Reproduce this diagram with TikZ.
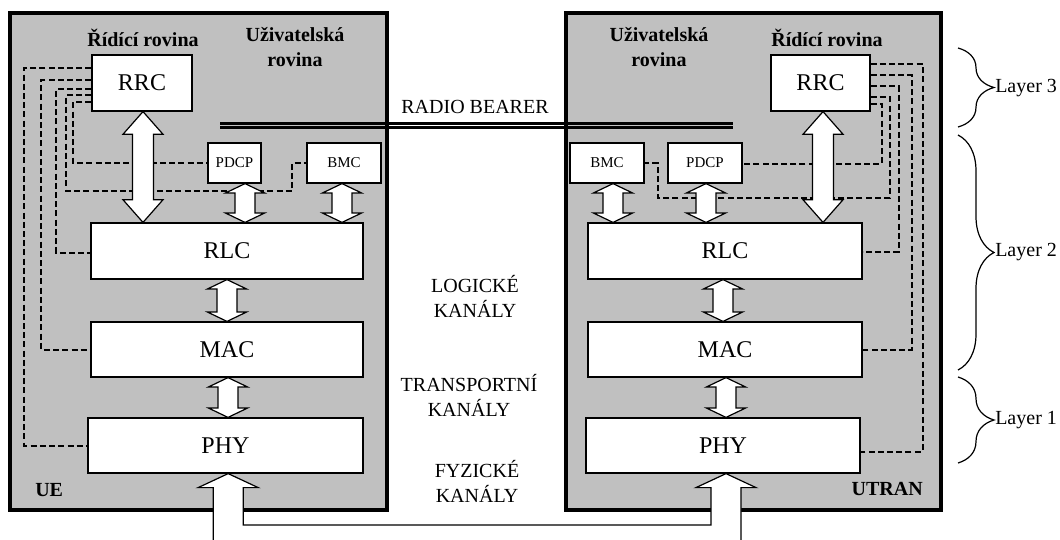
\documentclass[tikz,border=0pt]{standalone}
\usepackage{fontspec}
\setmainfont{Liberation Serif}
\usetikzlibrary{calc,decorations.pathreplacing}
\definecolor{panel}{RGB}{192,192,192}
\tikzset{
 panelbox/.style={draw, line width=2.3pt, fill=panel, inner sep=0pt},
 layerbox/.style={draw, line width=0.9pt, fill=white, inner sep=0pt, font=\fontsize{18}{20}\selectfont},
 smallbox/.style={layerbox, font=\fontsize{11.25}{13}\selectfont},
 ctrl/.style={line width=1.5pt, dash pattern=on 4.5pt off 2.4pt},
 arrbox/.style={draw, fill=white, line width=0.9pt, line join=miter},
 lbl/.style={font=\fontsize{15}{18.75}\selectfont, align=center, inner sep=0pt},
 plane/.style={font=\fontsize{15}{18.75}\selectfont\bfseries, align=center, inner sep=0pt},
 layerbrace/.style={decorate, decoration={brace, amplitude=27pt}, line width=0.9pt},
 bearer/.style={line width=1.8pt},
}
\newcommand\twoway[5]{%
 \filldraw[arrbox] (#1) -- ([shift={(#4,-#5)}]#1) -- ([shift={(#3,-#5)}]#1) -- ([shift={(#3,#5)}]#2) -- ([shift={(#4,#5)}]#2) -- (#2) -- ([shift={(-#4,#5)}]#2) -- ([shift={(-#3,#5)}]#2) -- ([shift={(-#3,-#5)}]#1) -- ([shift={(-#4,-#5)}]#1) -- cycle;}
\begin{document}
\begin{tikzpicture}[x=0.75pt, y=-0.75pt]
\useasboundingbox (0,0) rectangle (1060,539);
% panels
\node[panelbox, minimum width=282.75pt, minimum height=372.75pt] (UE) at (198.5,261.5) {};
\node[panelbox, minimum width=281.25pt, minimum height=372.75pt] (UTRAN) at (753.5,261.5) {};
% plane labels
\node[plane] (ctlA) at (143,38) {Řídící rovina};
\node[plane] (usrA) at (295,47) {Uživatelská\\rovina};
\node[plane] (ctlB) at (827,38) {Řídící rovina};
\node[plane] (usrB) at (659,47) {Uživatelská\\rovina};
\node[plane, anchor=west] (ueL) at (35,490) {UE};
\node[plane, anchor=east] (utL) at (923,489) {UTRAN};
% radio bearer
\coordinate (rbA) at (220,123.3);
\coordinate (rbB) at (733,123.3);
\draw[bearer] (rbA) -- (rbB);
\draw[bearer] ([yshift=-3pt]rbA) -- ([yshift=-3pt]rbB);
\node[lbl] (rbT) at (475,107) {RADIO BEARER};
% channel labels
\node[lbl] (logT) at (475,296) {LOGICKÉ\\KANÁLY};
\node[lbl] (trT) at (469,395) {TRANSPORTNÍ\\KANÁLY};
\node[lbl] (fyT) at (477,481) {FYZICKÉ\\KANÁLY};
% box positions
\path (142,83) coordinate (pRRCa) (234.5,163) coordinate (pPDCPa) (344,163) coordinate (pBMCa)
      (227,251) coordinate (pRLCa) (227,349.5) coordinate (pMACa) (225.5,445.5) coordinate (pPHYa);
\path (820.5,83) coordinate (pRRCb) (705,163) coordinate (pPDCPb) (607,163) coordinate (pBMCb)
      (725,251) coordinate (pRLCb) (725,349.5) coordinate (pMACb) (723,445.5) coordinate (pPHYb);
% invisible anchors first for dashed routes
\node[layerbox, draw=none, fill=none, minimum width=75pt, minimum height=42pt] (RRCa) at (pRRCa) {};
\node[smallbox, draw=none, fill=none, minimum width=39.75pt, minimum height=30pt] (PDCPa) at (pPDCPa) {};
\node[smallbox, draw=none, fill=none, minimum width=55.5pt, minimum height=30pt] (BMCa) at (pBMCa) {};
\node[layerbox, draw=none, fill=none, minimum width=204pt, minimum height=42pt] (RLCa) at (pRLCa) {};
\node[layerbox, draw=none, fill=none, minimum width=204pt, minimum height=41.25pt] (MACa) at (pMACa) {};
\node[layerbox, draw=none, fill=none, minimum width=206.25pt, minimum height=41.25pt] (PHYa) at (pPHYa) {};
\node[layerbox, draw=none, fill=none, minimum width=74.25pt, minimum height=42pt] (RRCb) at (pRRCb) {};
\node[smallbox, draw=none, fill=none, minimum width=55.5pt, minimum height=30pt] (PDCPb) at (pPDCPb) {};
\node[smallbox, draw=none, fill=none, minimum width=55.5pt, minimum height=30pt] (BMCb) at (pBMCb) {};
\node[layerbox, draw=none, fill=none, minimum width=205.5pt, minimum height=42pt] (RLCb) at (pRLCb) {};
\node[layerbox, draw=none, fill=none, minimum width=205.5pt, minimum height=41.25pt] (MACb) at (pMACb) {};
\node[layerbox, draw=none, fill=none, minimum width=205.5pt, minimum height=41.25pt] (PHYb) at (pPHYb) {};
% dashed control lines UE
\draw[ctrl] ([yshift=11.25pt]RRCa.west) -| ($(PHYa.west)+(-63,0)$) -- (PHYa.west);
\draw[ctrl] ([yshift=2.25pt]RRCa.west) -| ($(MACa.west)+(-49,0)$) -- (MACa.west);
\draw[ctrl] ([yshift=-4.5pt]RRCa.west) -| ($(RLCa.west)+(-34,2)$) -- ([yshift=-1.5pt]RLCa.west);
\draw[ctrl] ([yshift=-9pt]RRCa.west) -| ($(RRCa.west)+(-25,108)$) -| ($(BMCa.west)+(-14,0)$) -- (BMCa.west);
\draw[ctrl] ([yshift=-14.25pt]RRCa.west) -| ($(PDCPa.west)+(-134,0)$) -- (PDCPa.west);
% dashed control lines UTRAN
\draw[ctrl] ([yshift=14.25pt]RRCb.east) -| ($(PHYb.east)+(62,6)$) -- ([yshift=-4.5pt]PHYb.east);
\draw[ctrl] ([yshift=6pt]RRCb.east) -| ($(MACb.east)+(49,0)$) -- (MACb.east);
\draw[ctrl] ([yshift=-2.25pt]RRCb.east) -| ($(RLCb.east)+(36,1)$) -- ([yshift=-0.75pt]RLCb.east);
\draw[ctrl] ([yshift=-10.5pt]RRCb.east) -| ($(RRCb.east)+(19,115)$) -| ($(BMCb.east)+(13,0)$) -- (BMCb.east);
\draw[ctrl] ([yshift=-15.75pt]RRCb.east) -| ($(PDCPb.east)+(139,1)$) -- ([yshift=-0.75pt]PDCPb.east);
% visible boxes
\node[layerbox, minimum width=75pt, minimum height=42pt] (RRCa) at (pRRCa) {RRC};
\node[smallbox, minimum width=39.75pt, minimum height=30pt] (PDCPa) at (pPDCPa) {PDCP};
\node[smallbox, minimum width=55.5pt, minimum height=30pt] (BMCa) at (pBMCa) {BMC};
\node[layerbox, minimum width=204pt, minimum height=42pt] (RLCa) at (pRLCa) {RLC};
\node[layerbox, minimum width=204pt, minimum height=41.25pt] (MACa) at (pMACa) {MAC};
\node[layerbox, minimum width=206.25pt, minimum height=41.25pt] (PHYa) at (pPHYa) {PHY};
\node[layerbox, minimum width=74.25pt, minimum height=42pt] (RRCb) at (pRRCb) {RRC};
\node[smallbox, minimum width=55.5pt, minimum height=30pt] (PDCPb) at (pPDCPb) {PDCP};
\node[smallbox, minimum width=55.5pt, minimum height=30pt] (BMCb) at (pBMCb) {BMC};
\node[layerbox, minimum width=205.5pt, minimum height=42pt] (RLCb) at (pRLCb) {RLC};
\node[layerbox, minimum width=205.5pt, minimum height=41.25pt] (MACb) at (pMACb) {MAC};
\node[layerbox, minimum width=205.5pt, minimum height=41.25pt] (PHYb) at (pPHYb) {PHY};
% double arrows UE
\coordinate (t1) at ([xshift=0.75pt]RRCa.south); \coordinate (b1) at (t1 |- RLCa.north);
\twoway{t1}{b1}{7.9pt}{15pt}{17pt}
\coordinate (t2) at ([xshift=7.9pt]PDCPa.south); \coordinate (b2) at (t2 |- RLCa.north);
\twoway{t2}{b2}{7.5pt}{14.6pt}{7pt}
\coordinate (t3) at ([xshift=-1.5pt]BMCa.south); \coordinate (b3) at (t3 |- RLCa.north);
\twoway{t3}{b3}{7.5pt}{14.6pt}{7pt}
\coordinate (t4) at (RLCa.south); \coordinate (b4) at (t4 |- MACa.north);
\twoway{t4}{b4}{7.5pt}{14.6pt}{7pt}
\coordinate (t5) at ([xshift=0.75pt]MACa.south); \coordinate (b5) at (t5 |- PHYa.north);
\twoway{t5}{b5}{7.5pt}{14.6pt}{7pt}
% double arrows UTRAN
\coordinate (t6) at ([xshift=1.9pt]RRCb.south); \coordinate (b6) at (t6 |- RLCb.north);
\twoway{t6}{b6}{7.9pt}{15pt}{17pt}
\coordinate (t7) at ([xshift=4.5pt]BMCb.south); \coordinate (b7) at (t7 |- RLCb.north);
\twoway{t7}{b7}{7.5pt}{14.6pt}{7pt}
\coordinate (t8) at ([xshift=0.75pt]PDCPb.south); \coordinate (b8) at (t8 |- RLCb.north);
\twoway{t8}{b8}{7.5pt}{14.6pt}{7pt}
\coordinate (t9) at ([xshift=-1.5pt]RLCb.south); \coordinate (b9) at (t9 |- MACb.north);
\twoway{t9}{b9}{7.5pt}{14.6pt}{7pt}
\coordinate (t10) at ([xshift=0.75pt]MACb.south); \coordinate (b10) at (t10 |- PHYb.north);
\twoway{t10}{b10}{7.5pt}{14.6pt}{7pt}
% physical channel link
\coordinate (inA) at ([xshift=2pt]PHYa.south);
\coordinate (inB) at ([xshift=2.25pt]PHYb.south);
\coordinate (bot) at (0,540);
\coordinate (link) at (0,525);
\filldraw[arrbox] ($(inA|-bot)+(-15,0)$) -- ($(inA)+(-15,14)$) -- ($(inA)+(-30,14)$) -- (inA)
  -- ($(inA)+(30,14)$) -- ($(inA)+(15,14)$) -- ($(inA|-link)+(15,0)$) -- ($(inB|-link)+(-15,0)$)
  -- ($(inB)+(-15,14)$) -- ($(inB)+(-30,14)$) -- (inB) -- ($(inB)+(30,14)$) -- ($(inB)+(15,14)$)
  -- ($(inB|-bot)+(15,0)$);
% layer braces
\coordinate (L3a) at (958,48); \coordinate (L3b) at (958,127);
\coordinate (L2a) at (958,135); \coordinate (L2b) at (958,370);
\coordinate (L1a) at (958,377); \coordinate (L1b) at (958,463);
\draw[layerbrace] (L3a) -- (L3b);
\draw[layerbrace] (L2a) -- (L2b);
\draw[layerbrace] (L1a) -- (L1b);
\node[lbl, anchor=west] (lay3) at (995,88) {Layer 3};
\node[lbl, anchor=west] (lay2) at (995,252) {Layer 2};
\node[lbl, anchor=west] (lay1) at (995,420) {Layer 1};
\end{tikzpicture}
\end{document}
